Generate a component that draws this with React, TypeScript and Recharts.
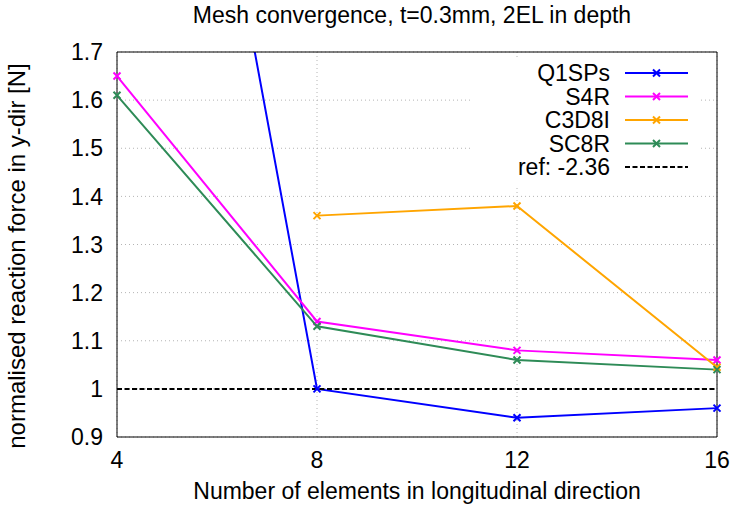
import React from "react";
import { LineChart, Line, XAxis, YAxis, CartesianGrid, Legend } from "recharts";

// number of elements along the length
const elements = [4, 8, 12, 16];

// normalised reaction force per element type
const q1sps = [3.25, 1.0, 0.94, 0.96];
const s4r = [1.65, 1.14, 1.08, 1.06];
const c3d8i: (number | null)[] = [null, 1.36, 1.38, 1.045];
const sc8r = [1.61, 1.13, 1.06, 1.04];
const refValue = [1, 1, 1, 1];

const xTicks = [4, 8, 12, 16];
const yTicks = [0.9, 1, 1.1, 1.2, 1.3, 1.4, 1.5, 1.6, 1.7];

const FONT = "'Liberation Sans', Arial, sans-serif";

const series = [
  { key: "q1sps", name: "Q1SPs", color: "#0000ff", marker: true, dash: undefined },
  { key: "s4r", name: "S4R", color: "#ff00ff", marker: true, dash: undefined },
  { key: "c3d8i", name: "C3D8I", color: "#ffa500", marker: true, dash: undefined },
  { key: "sc8r", name: "SC8R", color: "#2e8b57", marker: true, dash: undefined },
  { key: "ref", name: "ref: -2.36", color: "#000000", marker: false, dash: "5 2.5" },
];

const data = elements.map((n, i) => ({
  n,
  q1sps: q1sps[i],
  s4r: s4r[i],
  c3d8i: c3d8i[i],
  sc8r: sc8r[i],
  ref: refValue[i],
}));

function Cross(props: any) {
  const { cx, cy, stroke } = props;
  if (cx == null || cy == null || Number.isNaN(cx) || Number.isNaN(cy)) return <g />;
  const s = 3.5;
  return (
    <path
      d={`M${cx - s},${cy - s}L${cx + s},${cy + s}M${cx - s},${cy + s}L${cx + s},${cy - s}`}
      stroke={stroke}
      strokeWidth={2}
      fill="none"
    />
  );
}

function LegendBox() {
  return (
    <svg width={228} height={126} style={{ display: "block", background: "#fff" }}>
      {series.map((s, i) => {
        const y = 14 + i * 23.5;
        return (
          <g key={s.key}>
            <text x={138} y={y + 8} textAnchor="end" fontSize={23} fontFamily={FONT} fill="#000">
              {s.name}
            </text>
            <line x1={153} x2={216} y1={y} y2={y} stroke={s.color} strokeWidth={2} strokeDasharray={s.dash} />
            {s.marker && <Cross cx={184.5} cy={y} stroke={s.color} />}
          </g>
        );
      })}
    </svg>
  );
}

export default function App() {
  const tickStyle = { fontSize: 23, fill: "#000", fontFamily: FONT };
  return (
    <div style={{ position: "absolute", left: 0, top: 0, width: 734, height: 510, background: "#fff", fontFamily: FONT }}>
      <LineChart width={734} height={510} data={data} margin={{ top: 52, right: 17, bottom: 33, left: 57 }}>
        <CartesianGrid stroke="#b4b4b4" strokeDasharray="1 3" />
        <XAxis
          dataKey="n"
          type="number"
          domain={[4, 16]}
          ticks={xTicks}
          height={40}
          tickLine={false}
          tickSize={8}
          tickMargin={7}
          axisLine={{ stroke: "#000" }}
          tick={tickStyle}
        />
        <XAxis xAxisId="bm" dataKey="n" type="number" domain={[4, 16]} ticks={xTicks} orientation="bottom" mirror tick={false} tickSize={8} axisLine={false} tickLine={{ stroke: "#000" }} />
        <XAxis xAxisId="top" dataKey="n" type="number" domain={[4, 16]} ticks={xTicks} orientation="top" mirror tick={false} tickSize={8} axisLine={{ stroke: "#000" }} tickLine={{ stroke: "#000" }} />
        <YAxis
          type="number"
          domain={[0.9, 1.7]}
          ticks={yTicks}
          allowDataOverflow
          width={60}
          tickLine={false}
          tickSize={8}
          tickMargin={6}
          axisLine={{ stroke: "#000" }}
          tick={tickStyle}
          tickFormatter={(v: number) => String(Math.round(v * 10) / 10)}
        />
        <YAxis yAxisId="lm" type="number" domain={[0.9, 1.7]} ticks={yTicks} allowDataOverflow orientation="left" mirror tick={false} tickSize={8} axisLine={false} tickLine={{ stroke: "#000" }} />
        <YAxis yAxisId="right" type="number" domain={[0.9, 1.7]} ticks={yTicks} allowDataOverflow orientation="right" mirror tick={false} tickSize={8} axisLine={{ stroke: "#000" }} tickLine={{ stroke: "#000" }} />
        <Legend
          layout="vertical"
          align="center"
          verticalAlign="middle"
          wrapperStyle={{ left: 472, top: 59, width: 228, height: 126 }}
          content={() => <LegendBox />}
        />
        {series.map((s) => (
          <Line
            key={s.key}
            dataKey={s.key}
            name={s.name}
            stroke={s.color}
            strokeWidth={2}
            strokeDasharray={s.dash}
            dot={s.marker ? <Cross /> : false}
            activeDot={false}
            isAnimationActive={false}
          />
        ))}
      </LineChart>
      <svg width={734} height={510} style={{ position: "absolute", left: 0, top: 0, pointerEvents: "none" }}>
        <text x={412} y={23} textAnchor="middle" fontSize={23} fontFamily={FONT} fill="#000">
          Mesh convergence, t=0.3mm, 2EL in depth
        </text>
        <text x={417} y={499} textAnchor="middle" fontSize={23} fontFamily={FONT} fill="#000">
          Number of elements in longitudinal direction
        </text>
        <text transform="translate(25,256) rotate(-90)" textAnchor="middle" fontSize={24} fontFamily={FONT} fill="#000">
          normalised reaction force in y-dir [N]
        </text>
      </svg>
    </div>
  );
}
